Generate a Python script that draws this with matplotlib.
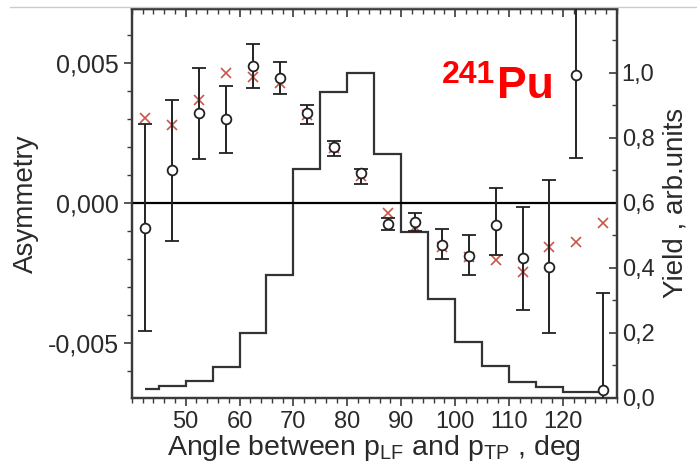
import matplotlib
matplotlib.use("Agg")
import matplotlib.pyplot as plt
from matplotlib.ticker import FixedLocator, MultipleLocator, FuncFormatter
from matplotlib.lines import Line2D

plt.rcParams['font.family'] = ['Liberation Sans', 'DejaVu Sans']
plt.rcParams['mathtext.fontset'] = 'custom'
plt.rcParams['mathtext.rm'] = 'Liberation Sans'

# asymmetry points (open circles with error bars)
angle = [42.5, 47.5, 52.5, 57.5, 62.5, 67.5, 72.5, 77.5, 82.5,
         87.5, 92.5, 97.5, 102.5, 107.5, 112.5, 117.5, 122.5, 127.5]
asym = [-0.00089, 0.00118, 0.00321, 0.00300, 0.00489, 0.00446, 0.00321, 0.00200, 0.00107,
        -0.00075, -0.00068, -0.00150, -0.00188, -0.00079, -0.00196, -0.00230, 0.00457, -0.00668]
err_hi = [0.00282, 0.00368, 0.00482, 0.00418, 0.00568, 0.00504, 0.00350, 0.00221, 0.00121,
          -0.00055, -0.00036, -0.00093, -0.00114, 0.00054, -0.00014, 0.00082, 0.00800, -0.00321]
err_lo = [-0.00457, -0.00136, 0.00157, 0.00179, 0.00411, 0.00389, 0.00282, 0.00168, 0.00068,
          -0.00095, -0.00100, -0.00200, -0.00258, -0.00184, -0.00382, -0.00464, 0.00161, -0.00800]

# red crosses (calculation)
calc = [0.00304, 0.00279, 0.00368, 0.00464, 0.00450, 0.00429, 0.00314, 0.00196, 0.00095,
        -0.00036, -0.00086, -0.00157, -0.00193, -0.00204, -0.00246, -0.00157, -0.00139, -0.00071]

# yield histogram (right axis)
edges = [42.5, 45, 50, 55, 60, 65, 70, 75, 80, 85, 90, 95, 100, 105, 110, 115, 120, 127.5]
yld = [0.028, 0.038, 0.052, 0.096, 0.201, 0.378, 0.705, 0.94, 1.0, 0.75,
       0.51, 0.305, 0.172, 0.098, 0.049, 0.034, 0.018]

fig = plt.figure(figsize=(6.97, 4.72), dpi=100)
ax = fig.add_axes([0.189, 0.157, 0.696, 0.824])
ax2 = ax.twinx()
ax.set_zorder(ax2.get_zorder() + 1)
ax.patch.set_visible(False)

dark = '#3a3a3a'
ax2.stairs(yld, edges, baseline=None, color='#333333', lw=1.6)
ax2.set_ylim(0, 1.197)

ax.axhline(0, color='black', lw=1.6, zorder=1)
ax.plot(angle, calc, 'x', color='#c0392b', ms=7, mew=1.2, alpha=0.85, zorder=2)
lower = [a - l for a, l in zip(asym, err_lo)]
upper = [h - a for a, h in zip(asym, err_hi)]
ax.errorbar(angle, asym, yerr=[lower, upper], fmt='o', color='#222222',
            mfc='white', mec='#222222', ms=7, mew=1.3, elinewidth=1.4,
            capsize=5, capthick=1.4, zorder=3)

ax.set_xlim(40, 130)
ax.set_ylim(-0.00696, 0.00693)

ax.xaxis.set_major_locator(FixedLocator(list(range(50, 121, 10))))
ax.xaxis.set_minor_locator(MultipleLocator(2))
ax.yaxis.set_major_locator(FixedLocator([-0.005, 0.0, 0.005]))
ax.yaxis.set_minor_locator(MultipleLocator(0.001))
ax.yaxis.set_major_formatter(FuncFormatter(lambda v, p: f'{v:.3f}'.replace('.', ',')))

ax2.yaxis.set_major_locator(FixedLocator([0, 0.2, 0.4, 0.6, 0.8, 1.0]))
ax2.yaxis.set_minor_locator(MultipleLocator(0.1))
ax2.yaxis.set_major_formatter(FuncFormatter(lambda v, p: f'{v:.1f}'.replace('.', ',')))

ax.tick_params(axis='both', which='major', direction='out', length=6, width=1.2,
               labelsize=17, colors=dark, labelcolor='#2a2a2a')
ax.tick_params(axis='both', which='minor', direction='out', length=3.5, width=1.0, colors=dark)
ax.tick_params(axis='y', which='both', right=False)
ax.tick_params(axis='y', which='major', labelsize=18)
ax2.tick_params(axis='y', which='major', direction='in', length=6, width=1.2,
                labelsize=17, colors=dark, labelcolor='#2a2a2a')
ax2.tick_params(axis='y', which='minor', direction='in', length=3.5, width=1.0, colors=dark)

top = ax.secondary_xaxis('top')
top.xaxis.set_major_locator(FixedLocator(list(range(50, 121, 10))))
top.xaxis.set_minor_locator(MultipleLocator(2))
top.tick_params(which='major', direction='in', length=6, width=1.2, colors=dark, labeltop=False)
top.tick_params(which='minor', direction='in', length=3.5, width=1.0, colors=dark)

for a in (ax, ax2):
    for s in a.spines.values():
        s.set_color(dark)
        s.set_linewidth(1.6)
top.spines['top'].set_color(dark)
top.spines['top'].set_linewidth(1.6)

ax.set_ylabel('Asymmetry', fontsize=20, color='#2a2a2a', labelpad=6)
ax2.set_ylabel('Yield , arb.units', fontsize=20, color='#2a2a2a', labelpad=6)
ax.set_xlabel(r'Angle between p$_{\mathregular{LF}}$ and p$_{\mathregular{TP}}$ , deg',
              fontsize=20.5, color='#2a2a2a', labelpad=0)

fig.text(442 / 697, 1 - 83 / 472, '241', color='#ff0000',
         fontsize=23, fontweight='bold', va='baseline', ha='left')
fig.text(497 / 697, 1 - 98 / 472, 'Pu', color='#ff0000',
         fontsize=32, fontweight='bold', va='baseline', ha='left')

fig.add_artist(Line2D([0.015, 1.0], [0.985, 0.985], color='#cccccc', lw=1.0))

fig.savefig('out.png', dpi=100)
